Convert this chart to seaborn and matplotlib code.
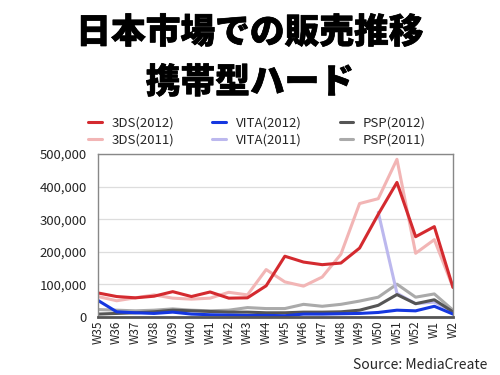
import matplotlib
matplotlib.use("Agg")
import matplotlib.pyplot as plt
import matplotlib.ticker as mticker
import matplotlib.patheffects as pe
import numpy as np
import pandas as pd
import seaborn as sns

weeks = ["W35", "W36", "W37", "W38", "W39", "W40", "W41", "W42", "W43", "W44",
         "W45", "W46", "W47", "W48", "W49", "W50", "W51", "W52", "W1", "W2"]

ds3_2012 = [73000, 62000, 58000, 63000, 77000, 62000, 76000, 57000, 58000, 95000,
            186000, 168000, 160000, 165000, 211000, 315000, 413000, 246000, 277000, 90000]
ds3_2011 = [62000, 49000, 58000, 67000, 57000, 54000, 57000, 75000, 67000, 145000,
            107000, 94000, 122000, 192000, 348000, 363000, 484000, 195000, 237000, 90000]
vita_2012 = [50000, 15000, 12000, 10000, 14000, 8000, 6000, 5000, 4000, 4000,
             3000, 8000, 8000, 9000, 10000, 13000, 20000, 18000, 32000, 8000]
vita_2011 = [None] * 15 + [321000, 72000, 40000, 45000, 15000]
psp_2012 = [8000, 10000, 12000, 15000, 20000, 18000, 16000, 14000, 14000, 12000,
            12000, 14000, 14000, 15000, 20000, 35000, 68000, 40000, 52000, 15000]
psp_2011 = [22000, 20000, 18000, 20000, 24000, 20000, 18000, 20000, 28000, 25000,
            25000, 38000, 32000, 38000, 48000, 60000, 100000, 60000, 70000, 20000]

series = {
    "PSP(2011)": psp_2011,
    "VITA(2011)": vita_2011,
    "3DS(2011)": ds3_2011,
    "PSP(2012)": psp_2012,
    "VITA(2012)": vita_2012,
    "3DS(2012)": ds3_2012,
}
colors = {
    "3DS(2012)": "#d42a2f",
    "3DS(2011)": "#f2b5b5",
    "VITA(2012)": "#1537e0",
    "VITA(2011)": "#bcb8ee",
    "PSP(2012)": "#555555",
    "PSP(2011)": "#aaaaaa",
}

rows = []
for name, vals in series.items():
    for i, v in enumerate(vals):
        rows.append({"idx": i, "week": weeks[i], "series": name,
                     "sales": np.nan if v is None else v})
df = pd.DataFrame(rows)

sns.set_style("white")
plt.rcParams["font.family"] = ["Noto Sans CJK JP", "DejaVu Sans"]

fig = plt.figure(figsize=(5, 3.75), dpi=100)
ax = fig.add_axes([0.196, 0.1555, 0.71, 0.4335])

handles = {}
for name in series:
    sub = df[df["series"] == name]
    sns.lineplot(data=sub, x="idx", y="sales", ax=ax, color=colors[name],
                 linewidth=2.2, label=name, legend=False)
    handles[name] = ax.lines[-1]

ax.set_xlim(0, len(weeks) - 1)
ax.set_ylim(0, 500000)
ax.set_xticks(range(len(weeks)))
ax.set_xticklabels(weeks, rotation=90, fontsize=8.5)
ax.set_yticks(range(0, 500001, 100000))
ax.yaxis.set_major_formatter(mticker.FuncFormatter(lambda v, p: f"{int(v):,}"))
ax.tick_params(axis="y", labelsize=9.5, length=0, pad=8)
ax.tick_params(axis="x", length=0, pad=3)
ax.set_xlabel("")
ax.set_ylabel("")
ax.grid(axis="y", color="#dddddd", linewidth=0.9)
ax.set_axisbelow(True)
for s in ["left", "right", "top", "bottom"]:
    ax.spines[s].set_color("#888888")
    ax.spines[s].set_linewidth(1.0)
ax.spines["bottom"].set_color("#555555")
ax.spines["bottom"].set_linewidth(2.0)

order = ["3DS(2012)", "3DS(2011)", "VITA(2012)", "VITA(2011)", "PSP(2012)", "PSP(2011)"]
fig.legend([handles[n] for n in order], order, ncol=3, frameon=False,
           loc="center left", bbox_to_anchor=(0.153, 0.649),
           fontsize=9.5, handlelength=1.0, columnspacing=2.9,
           labelspacing=0.3, handletextpad=0.75)

stroke = [pe.withStroke(linewidth=0.5, foreground="black")]
fig.text(0.5, 0.913, "日本市場での販売推移", ha="center", va="center",
         fontsize=25, fontweight="black", color="black", path_effects=stroke)
fig.text(0.5, 0.78, "携帯型ハード", ha="center", va="center",
         fontsize=25, fontweight="black", color="black", path_effects=stroke)
fig.text(0.975, 0.027, "Source: MediaCreate", ha="right", va="center",
         fontsize=10)

fig.savefig("out.png", dpi=100)
